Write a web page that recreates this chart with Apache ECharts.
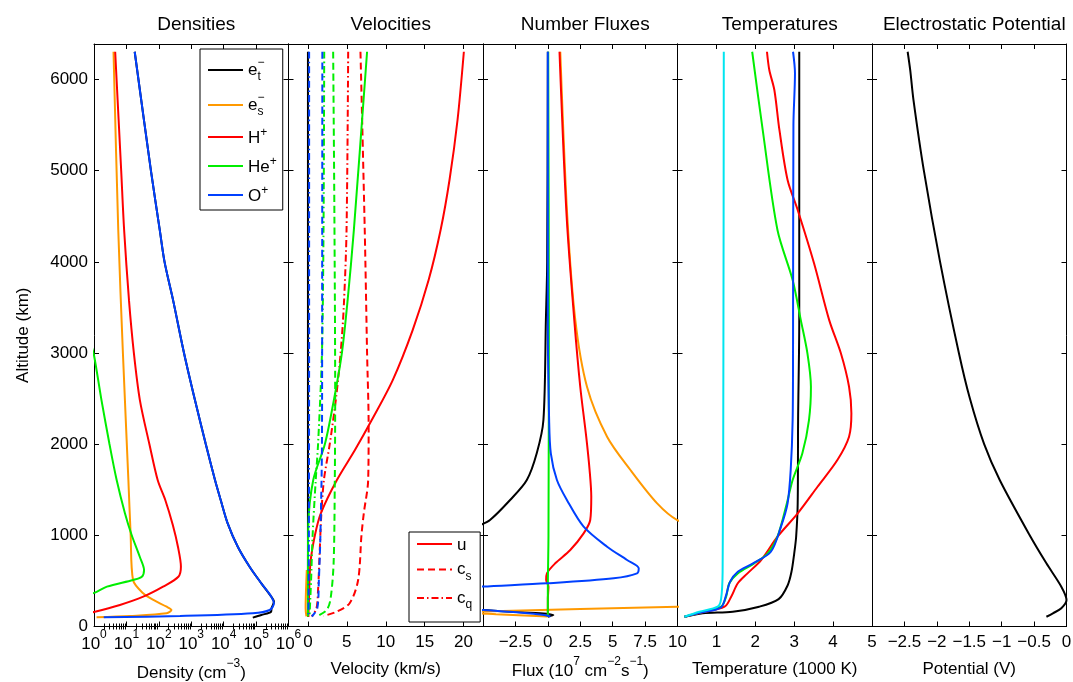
<!DOCTYPE html>
<html>
<head>
<meta charset="utf-8">
<script src="https://cdn.jsdelivr.net/npm/echarts@6/dist/echarts.min.js"></script>
<style>
  html, body { margin: 0; padding: 0; background: #fff; }
  #chart { width: 1073px; height: 682px; }
</style>
</head>
<body>
<div id="chart"></div>
<script>
// ---------- data: [value, altitude km] ----------
const altTicks = [0, 1000, 2000, 3000, 4000, 5000, 6000];
const panelTitles = ['Densities', 'Velocities', 'Number Fluxes', 'Temperatures', 'Electrostatic Potential'];

// Densities (cm^-3)
const densET = [[18,6305],[57,5000],[107,4349],[150,4000],[275,3580],[600,2998],[1300,2484],[2800,2002],[5400,1607],[8100,1388],[13200,1135],[27500,872],[63000,656],[145000,474],[295000,327],[355000,272],[300000,200],[290000,162],[145000,126],[79000,97]];
const densES = [[4.0,6305],[5.6,4349],[7.8,2998],[11.5,1607],[13.5,1004],[16,510],[33,364],[68,291],[174,217],[245,181],[174,145],[12.6,115],[1.2,101]];
const densH  = [[4.5,6305],[6.9,5000],[8.5,4349],[12,3580],[17,2998],[26,2484],[51,2002],[92,1607],[158,1388],[270,1113],[390,872],[480,656],[400,546],[135,437],[33,327],[6.3,236],[1.07,162],[0.63,150]];
const densHe = [[0.8,3100],[1.0,2976],[1.7,2484],[3.0,2002],[5.0,1607],[9,1243],[14.5,1004],[26,762],[35,620],[30,546],[16,510],[2.5,437],[1.07,371],[0.63,350]];
const densO  = [[18,6305],[57,5000],[107,4349],[150,4000],[275,3580],[600,2998],[1300,2484],[2800,2002],[5400,1607],[8100,1388],[13200,1135],[27500,872],[63000,656],[145000,474],[295000,327],[355000,254],[263000,181],[79000,145],[450,115],[2,101]];

// Velocities (km/s)
const velUET  = [[0.0,6305],[0.0,3000],[0.0,1000],[0.0,300],[0.0,110]];
const velUES  = [[-0.15,620],[-0.25,400],[-0.3,200],[-0.2,110]];
const velCqO  = [[0.15,6305],[0.15,3000],[0.12,1000],[0.08,300],[0.05,110]];
const velCsO  = [[1.85,6305],[1.83,4000],[1.8,2000],[1.6,1000],[1.4,500],[1.2,200],[0.5,110]];
const velCqHe = [[2.09,6305],[2.0,4349],[1.8,3000],[1.3,2000],[1.0,1607],[0.6,1000],[0.4,500],[0.2,110]];
const velCsHe = [[3.24,6305],[3.4,4500],[3.5,2500],[3.45,1600],[3.3,700],[2.9,300],[2.4,180],[1.1,110]];
const velUHe  = [[7.6,6305],[5.9,4349],[5.1,3580],[4.36,3000],[3.33,2484],[2.18,2002],[0.68,1607],[0.04,1100],[0.0,600],[0.0,110]];
const velCqH  = [[5.17,6305],[4.96,4349],[4.6,3500],[4.2,3000],[3.6,2500],[2.8,2000],[2.05,1607],[1.7,1200],[1.5,800],[1.3,400],[1.1,200],[0.5,110]];
const velCsH  = [[6.75,6305],[7.3,4349],[7.6,3000],[7.8,2200],[7.74,1607],[7.18,1243],[6.88,1004],[6.45,510],[5.38,258],[3.68,162],[2.0,115]];
const velUH   = [[20.04,6305],[19.23,5559],[18.2,4901],[17.05,4349],[15.51,3800],[13.46,3251],[10.9,2703],[8.2,2265],[6.04,1936],[3.72,1607],[1.67,1245],[0.9,1004],[0.32,697],[0.13,291],[0.06,104]];

// Number fluxes (10^7 cm^-2 s^-1)
const fluxET = [[0.0,6305],[-0.05,4000],[-0.15,3361],[-0.34,2265],[-0.85,1903],[-1.62,1607],[-2.91,1388],[-4.46,1168],[-5.2,1113],[-7,1000],[-15,700],[-20,400],[-12,250],[-5.5,190],[-5,181],[0.43,126],[0,107]];
const fluxES = [[0.96,6305],[1.5,4500],[2.12,3361],[3.02,2630],[4.57,2082],[6.37,1717],[8.43,1351],[9.98,1168],[13,1000],[20,700],[25,400],[15,230],[10,217],[-5,165],[-6,150],[-4,135],[0,110]];
const fluxH  = [[0.9,6305],[1.45,4500],[2.04,3361],[2.5,2630],[2.96,2082],[3.22,1717],[3.35,1424],[3.27,1168],[2.76,1022],[1.73,839],[0.57,693],[-0.07,583],[-0.13,510],[0.05,437],[0.0,300],[0.0,110]];
const fluxHe = [[0.03,6305],[0.08,3361],[0.05,1000],[0.0,400],[0.0,110]];
const fluxO  = [[0.0,6305],[0.0,3361],[0.1,2265],[0.23,1900],[0.7,1607],[1.47,1388],[2.76,1095],[4.57,875],[6.11,729],[7.01,638],[6.88,583],[5.08,529],[-0.07,474],[-5.2,437],[-9,400],[-15,300],[-9,220],[-5,181],[-2,150],[-0.3,125],[0.2,110]];

// Temperatures (1000 K)
const tempET = [[3.13,6305],[3.13,3361],[3.1,2265],[3.09,1351],[3.05,985],[3.0,800],[2.93,600],[2.83,450],[2.6,300],[2.1,217],[1.42,162],[0.65,145],[0.18,107]];
const tempH  = [[2.3,6305],[2.36,6105],[2.49,5885],[2.62,5447],[2.83,4898],[3.09,4569],[3.51,3984],[3.9,3361],[4.2,2997],[4.41,2630],[4.47,2338],[4.41,2082],[4.11,1826],[3.6,1533],[3.09,1241],[2.57,985],[2.15,729],[1.8,583],[1.55,474],[1.38,327],[1.21,217],[0.6,150],[0.18,107]];
const tempHe = [[1.92,6305],[2.19,5447],[2.57,4349],[2.96,3800],[3.17,3361],[3.34,2997],[3.43,2630],[3.38,2265],[3.21,1900],[2.96,1607],[2.79,1315],[2.57,985],[2.32,803],[1.97,693],[1.55,583],[1.33,474],[1.25,327],[1.12,217],[0.6,155],[0.18,107]];
const tempO  = [[2.97,6305],[3.02,6069],[2.98,5500],[2.97,3000],[2.96,2265],[2.91,1717],[2.83,1351],[2.66,1095],[2.4,820],[1.93,690],[1.55,600],[1.35,490],[1.25,345],[1.12,210],[0.6,153],[0.18,107]];
const tempN  = [[1.19,6305],[1.18,3000],[1.16,600],[1.12,300],[1.03,217],[0.56,162],[0.18,107]];

// Electrostatic potential (V)
const potential = [[-2.45,6305],[-2.41,6100],[-2.36,5775],[-2.2,5000],[-1.95,4000],[-1.66,3000],[-1.49,2500],[-1.27,2000],[-1.03,1607],[-0.57,1004],[-0.31,693],[-0.08,437],[0.0,291],[-0.08,200],[-0.21,145],[-0.31,107]];

// Axis ranges and tick values
const altRange = [0, 6390];
const densRange = [1, 1e6];
const velRange = [-2.5, 22.5];
const velTicks = [0, 5, 10, 15, 20];
const fluxRange = [-5, 10];
const fluxTicks = [-2.5, 0, 2.5, 5, 7.5, 10];
const tempRange = [0, 5];
const tempTicks = [0, 1, 2, 3, 4, 5];
const tempLabels = [1, 2, 3, 4, 5];
const potRange = [-3, 0];
const potTicks = [-2.5, -2, -1.5, -1, -0.5, 0];
const densMinorExp = [];
for (let d = 0; d < 6; d++) for (let k = 2; k <= 9; k++) densMinorExp.push(d + Math.log10(k));

// ---------- layout ----------
const FONT = '"Liberation Sans", Arial, Helvetica, sans-serif';
const FS = 17;
const panelLeft = [94, 288.5, 483, 677.5, 872];
const panelWidth = 194.5;
const panelTop = 44;
const panelHeight = 582.5;

const C = { black: '#000000', orange: '#ff9900', red: '#ff0000', green: '#00ee00', blue: '#0040ff', cyan: '#00e5f0' };

const rich = {
  b:   { fontSize: FS, lineHeight: 24, verticalAlign: 'bottom', fontFamily: FONT, color: '#000' },
  sup: { fontSize: 12, lineHeight: 12, verticalAlign: 'top', fontFamily: FONT, color: '#000' }
};
const minus = v => String(v).replace('-', '\u2212');

const grids = panelLeft.map(l => ({ left: l, top: panelTop, width: panelWidth, height: panelHeight, containLabel: false, outerBoundsMode: 'none' }));

function frameX(p, pos, extra) {
  return Object.assign({
    type: 'value', gridIndex: p, position: pos,
    axisLine: { show: true, onZero: false, lineStyle: { color: '#000', width: 1 } },
    axisTick: { show: true, inside: true, length: 5, lineStyle: { color: '#000', width: 1 } },
    axisLabel: { show: false },
    splitLine: { show: false }
  }, extra);
}
function frameY(p, pos, showLabel) {
  return {
    type: 'value', gridIndex: p, position: pos, min: altRange[0], max: altRange[1], interval: 1000,
    axisLine: { show: true, onZero: false, lineStyle: { color: '#000', width: 1 } },
    axisTick: { show: true, inside: true, length: 5, customValues: altTicks, lineStyle: { color: '#000', width: 1 } },
    axisLabel: { show: showLabel, customValues: altTicks, margin: 6, fontSize: FS, color: '#000', fontFamily: FONT, formatter: v => String(v) },
    splitLine: { show: false },
    name: showLabel ? 'Altitude (km)' : '',
    nameLocation: 'middle', nameGap: 62, nameRotate: 90,
    nameTextStyle: { fontSize: FS, color: '#000', fontFamily: FONT }
  };
}

const xName = [
  '{b|Density (cm}{sup|\u22123}{b|)}',
  '{b|Velocity (km/s)}',
  '{b|Flux (10}{sup|7}{b| cm}{sup|\u22122}{b|s}{sup|\u22121}{b|)}',
  '{b|Temperature (1000 K)}',
  '{b|Potential (V)}'
];
const xRanges = [null, velRange, fluxRange, tempRange, potRange];
const xTicks = [null, velTicks, fluxTicks, tempTicks, potTicks];
const xLabelVals = [null, velTicks, fluxTicks, tempLabels, potTicks];
const xIntervals = [null, 2.5, 2.5, 1, 0.5];

const xAxes = [];
for (let p = 0; p < 5; p++) {
  const common = p === 0
    ? { type: 'log', logBase: 10, min: densRange[0], max: densRange[1], splitNumber: 6 }
    : { min: xRanges[p][0], max: xRanges[p][1], interval: xIntervals[p] };
  const tickCV = p === 0 ? undefined : xTicks[p];
  const bottom = frameX(p, 'bottom', Object.assign({}, common, {
    axisTick: { show: true, inside: true, length: 5, customValues: tickCV, lineStyle: { color: '#000', width: 1 } },
    axisLabel: p === 0
      ? { show: true, margin: 2, formatter: v => '{b|10}{sup|' + Math.round(Math.log10(v)) + '}', rich: rich }
      : { show: true, margin: 7, customValues: xLabelVals[p], fontSize: FS, color: '#000', fontFamily: FONT, formatter: minus },
    name: xName[p], nameLocation: 'middle', nameGap: 27,
    nameTextStyle: { rich: rich, fontSize: FS, fontFamily: FONT, color: '#000' }
  }));
  const top = frameX(p, 'top', Object.assign({}, common, {
    axisTick: { show: true, inside: true, length: 5, customValues: tickCV, lineStyle: { color: '#000', width: 1 } }
  }));
  xAxes.push(bottom, top);
}
// minor decade ticks on the density axis (log10 units)
['bottom', 'top'].forEach(pos => {
  xAxes.push({
    type: 'value', gridIndex: 0, position: pos, min: 0, max: 6,
    axisLine: { show: false },
    axisTick: { show: true, inside: true, length: 3, customValues: densMinorExp, lineStyle: { color: '#000', width: 1 } },
    axisLabel: { show: false }, splitLine: { show: false }
  });
});

const yAxes = [];
for (let p = 0; p < 5; p++) yAxes.push(frameY(p, 'left', p === 0), frameY(p, 'right', false));

function mk(name, data, color, p, type) {
  return {
    type: 'line', name: name, data: data, xAxisIndex: 2 * p, yAxisIndex: 2 * p,
    symbol: 'none', showSymbol: false, smooth: 0.3, clip: true, silent: true,
    lineStyle: { color: color, width: 2, type: type || 'solid' },
    itemStyle: { color: color }
  };
}
const DASH = [7, 4];
const DASHDOT = [7, 3, 1.5, 3];

const series = [
  // densities
  mk('e_t', densET, C.black, 0), mk('e_s', densES, C.orange, 0), mk('H+', densH, C.red, 0),
  mk('He+', densHe, C.green, 0), mk('O+', densO, C.blue, 0),
  // velocities
  mk('e u', velUET, C.black, 1), mk('e_s u', velUES, C.orange, 1),
  mk('u', velUH, C.red, 1), mk('c_s', velCsH, C.red, 1, DASH), mk('c_q', velCqH, C.red, 1, DASHDOT),
  mk('He+ u', velUHe, C.green, 1), mk('He+ c_s', velCsHe, C.green, 1, DASH), mk('He+ c_q', velCqHe, C.green, 1, DASHDOT),
  mk('O+ c_s', velCsO, C.blue, 1, DASH), mk('O+ c_q', velCqO, C.blue, 1, DASHDOT),
  // fluxes
  mk('e_t flux', fluxET, C.black, 2), mk('e_s flux', fluxES, C.orange, 2), mk('H+ flux', fluxH, C.red, 2),
  mk('He+ flux', fluxHe, C.green, 2), mk('O+ flux', fluxO, C.blue, 2),
  // temperatures
  mk('e_t temp', tempET, C.black, 3), mk('H+ temp', tempH, C.red, 3), mk('He+ temp', tempHe, C.green, 3),
  mk('O+ temp', tempO, C.blue, 3), mk('neutral temp', tempN, C.cyan, 3),
  // potential
  mk('potential', potential, C.black, 4)
];

const legendRich = {
  b:   { fontSize: FS, lineHeight: 26, verticalAlign: 'middle', fontFamily: FONT, color: '#000' },
  b2:  { fontSize: FS, lineHeight: 20, verticalAlign: 'bottom', fontFamily: FONT, color: '#000' },
  sup: { fontSize: 12, lineHeight: 12, verticalAlign: 'top', fontFamily: FONT, color: '#000' },
  st:  { fontSize: 12, lineHeight: 12, verticalAlign: 'top', fontFamily: FONT, color: '#000', width: 0, align: 'left' },
  sub: { fontSize: 12, lineHeight: 12, verticalAlign: 'bottom', fontFamily: FONT, color: '#000' }
};
const legendLabels = {
  'e_t': '{b|e}{st|\u2212}{sub|t}',
  'e_s': '{b|e}{st|\u2212}{sub|s}',
  'H+': '{b2|H}{sup|+}',
  'He+': '{b2|He}{sup|+}',
  'O+': '{b2|O}{sup|+}',
  'u': '{b2|u}',
  'c_s': '{b|c}{sub|s}',
  'c_q': '{b|c}{sub|q}'
};

const legendBase = {
  orient: 'vertical', backgroundColor: '#fff', borderColor: '#000', borderWidth: 1, borderRadius: 0,
  itemWidth: 35, itemHeight: 14, selectedMode: false,
  itemStyle: { opacity: 0 },
  formatter: n => legendLabels[n] || n,
  textStyle: { rich: legendRich, fontSize: FS, fontFamily: FONT, color: '#000' }
};

const option = {
  animation: false,
  backgroundColor: '#fff',
  title: panelTitles.map((t, i) => ({
    text: t, left: panelLeft[i] + panelWidth / 2, top: 10, textAlign: 'center',
    textStyle: { fontSize: 19, fontWeight: 'normal', color: '#000', fontFamily: FONT }
  })),
  grid: grids,
  xAxis: xAxes,
  yAxis: yAxes,
  legend: [
    Object.assign({}, legendBase, { data: ['e_t', 'e_s', 'H+', 'He+', 'O+'], left: 200, top: 49, itemGap: 9, padding: [8, 6, 5, 7] }),
    Object.assign({}, legendBase, { data: ['u', 'c_s', 'c_q'], left: 409, top: 532, itemGap: 7, padding: [5, 8, 11, 7] })
  ],
  series: series
};

const chart = echarts.init(document.getElementById('chart'), null, { renderer: 'canvas' });
chart.setOption(option);
</script>
</body>
</html>
